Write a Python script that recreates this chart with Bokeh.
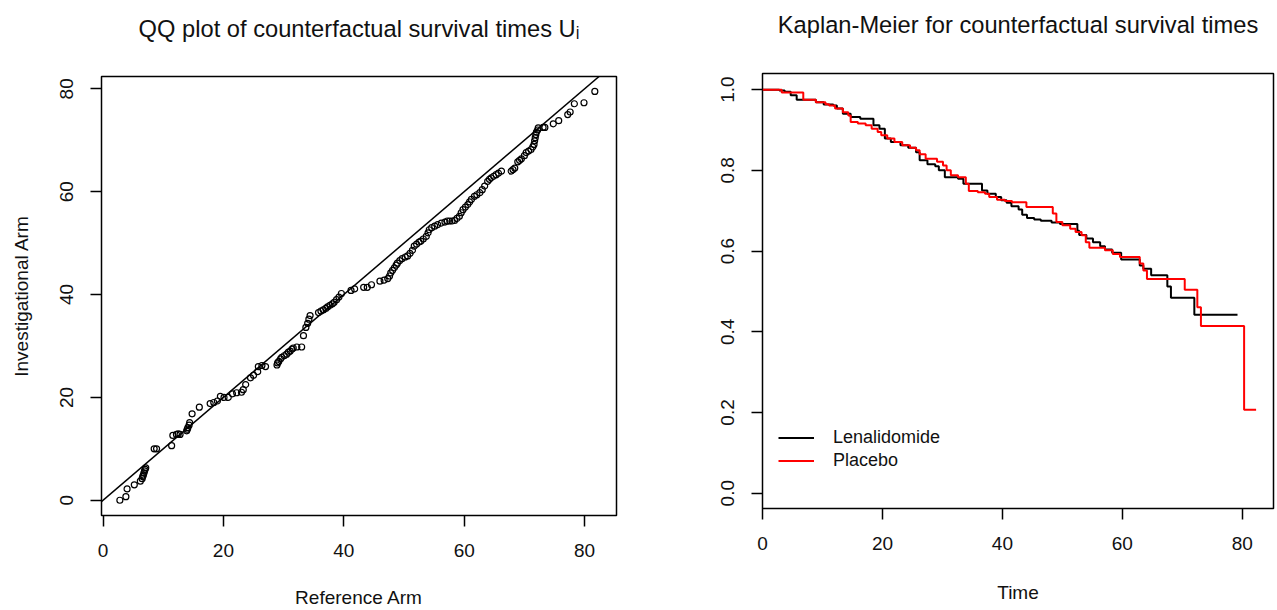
from bokeh.plotting import figure
from bokeh.layouts import row
from bokeh.models import (Slope, Legend, LegendItem, FixedTicker, Range1d,
                          PrintfTickFormatter)
from bokeh.embed import file_html
from bokeh.resources import INLINE

# ---------------- data ----------------
# QQ plot: quantiles of counterfactual survival times
ref_q = [2.8, 3.8, 4.0, 5.2, 6.2, 6.5, 6.6, 6.7, 6.8, 6.9, 7.0, 7.1,
         8.5, 8.9, 11.4, 11.6, 12.2, 12.5, 12.8, 13.9, 14.0, 14.1, 14.3, 14.4,
         14.8, 16.0, 17.8, 18.4, 19.0, 19.5, 20.1, 20.8, 21.5, 22.2, 23.0, 23.3,
         23.7, 24.5, 25.0, 25.7, 25.8, 26.4, 27.0,
         28.9, 29.0, 29.2, 29.5, 29.7, 30.1, 30.5, 30.8, 31.1, 31.4, 31.6, 32.2, 33.0,
         33.3, 33.7, 34.0, 34.2, 34.4,
         35.8, 36.2, 36.6, 37.0, 37.3, 37.7, 38.1, 38.4, 38.8, 39.2, 39.6,
         41.2, 41.8, 43.3, 43.9, 44.6, 46.0, 46.7,
         47.3, 47.6, 47.8, 48.1, 48.4, 48.7, 48.9, 49.3,
         49.7, 50.2, 50.6, 51.0, 51.4, 51.7, 52.1, 52.5, 52.8, 53.2, 53.7, 54.0,
         54.2, 54.6, 55.1, 55.6, 56.2, 56.8, 57.2, 57.6, 58.0, 58.4, 58.8, 59.2,
         59.5, 59.8, 60.2, 60.6, 60.9, 61.2, 61.7, 62.1, 62.6, 63.0, 63.4, 63.9,
         64.2, 64.5, 64.9, 65.3, 65.7, 66.2,
         67.8, 68.1, 68.4, 68.9, 69.2, 69.5, 70.0, 70.3, 70.7, 71.1, 71.4, 71.6,
         71.7, 71.8, 71.9, 72.0, 72.2, 72.3,
         73.1, 73.4, 74.8, 75.7, 77.2, 77.6, 78.3, 79.9, 81.7]
inv_q = [0.0, 0.7, 2.2, 3.0, 3.7, 4.2, 4.6, 4.9, 5.3, 5.7, 6.0, 6.3,
         10.0, 10.0, 10.6, 12.6, 12.8, 12.9, 12.8, 13.5, 13.8, 14.1, 14.6, 15.1,
         16.8, 18.1, 18.8, 19.0, 19.3, 20.2, 20.0, 20.0, 20.7, 20.9, 21.0, 21.5,
         22.5, 23.8, 24.3, 25.0, 26.0, 26.2, 26.0,
         26.3, 26.7, 27.0, 27.5, 27.8, 28.1, 28.4, 28.8, 29.0, 29.4, 29.6, 29.8, 29.8,
         32.0, 33.6, 34.4, 35.2, 35.9,
         36.5, 36.8, 37.0, 37.3, 37.6, 37.9, 38.2, 38.5, 39.0, 39.5, 40.2,
         40.8, 41.1, 41.4, 41.4, 41.9, 42.6, 42.8,
         43.1, 43.6, 44.2, 44.7, 45.2, 45.7, 46.1, 46.6,
         47.0, 47.3, 47.5, 48.0, 48.6, 49.4, 49.8, 50.2, 50.4, 50.8, 51.3, 52.0,
         52.6, 53.0, 53.3, 53.6, 53.9, 54.1, 54.3, 54.3, 54.3, 54.4, 54.8, 55.2,
         55.9, 56.5, 57.0, 57.5, 58.0, 58.5, 59.1, 59.4, 59.8, 60.4, 61.1, 62.0,
         62.4, 62.7, 63.0, 63.3, 63.6, 64.0,
         64.0, 64.3, 64.6, 65.8, 66.1, 66.4, 67.0, 67.6, 67.9, 68.2, 68.7, 69.2,
         69.9, 70.5, 71.1, 71.6, 72.0, 72.4,
         72.5, 72.5, 73.2, 73.8, 75.0, 75.5, 77.1, 77.3, 79.5]

# Kaplan-Meier step curves
len_time = [0, 2.8, 3.7, 4.7, 5.7, 8.9, 10.2, 11.8, 12.4, 13.4, 14.7, 16.3, 18.5,
            19.5, 20.4, 21.4, 23.0, 24.3, 25.6, 26.2, 27.5, 28.8, 29.4, 30.4, 32.6,
            33.5, 36.6, 37.5, 38.9, 39.8, 40.7, 41.5, 42.7, 43.3, 44.1, 45.3, 46.4,
            48.2, 49.6, 52.5, 52.8, 54.0, 55.1, 56.3, 57.1, 58.3, 59.8, 62.9, 63.5,
            64.8, 67.5, 68.1, 72.0, 79.2]
len_surv = [1.000, 0.998, 0.995, 0.986, 0.975, 0.969, 0.963, 0.961, 0.953, 0.940,
            0.932, 0.928, 0.912, 0.903, 0.879, 0.870, 0.862, 0.856, 0.845, 0.825,
            0.815, 0.810, 0.800, 0.783, 0.779, 0.767, 0.750, 0.742, 0.734, 0.726,
            0.720, 0.711, 0.703, 0.690, 0.682, 0.678, 0.675, 0.671, 0.667, 0.650,
            0.640, 0.631, 0.622, 0.612, 0.604, 0.596, 0.579, 0.564, 0.556, 0.540,
            0.512, 0.484, 0.442, 0.442]
pla_time = [0, 3.2, 6.8, 8.9, 10.5, 11.1, 12.1, 13.4, 14.3, 14.7, 15.9, 17.2, 18.2,
            19.2, 19.8, 20.8, 22.0, 23.3, 24.6, 25.6, 26.2, 27.2, 29.1, 30.1, 30.7,
            31.4, 32.6, 33.9, 34.4, 35.9, 37.1, 37.8, 39.1, 40.4, 41.6, 44.0, 48.4,
            49.0, 50.0, 51.3, 52.2, 53.2, 53.9, 54.5, 57.1, 58.4, 59.6, 62.9, 63.5,
            64.1, 70.4, 72.5, 73.1, 80.3, 82.3]
pla_surv = [1.000, 0.993, 0.975, 0.969, 0.964, 0.961, 0.953, 0.944, 0.936, 0.920,
            0.916, 0.912, 0.903, 0.895, 0.887, 0.879, 0.870, 0.862, 0.856, 0.850,
            0.840, 0.829, 0.821, 0.812, 0.800, 0.788, 0.783, 0.767, 0.749, 0.746,
            0.742, 0.734, 0.727, 0.724, 0.721, 0.709, 0.693, 0.672, 0.664, 0.655,
            0.647, 0.639, 0.622, 0.608, 0.602, 0.593, 0.585, 0.569, 0.552, 0.531,
            0.504, 0.461, 0.414, 0.207, 0.207]

x_ticks = [0, 20, 40, 60, 80]
qq_y_ticks = [0, 20, 40, 60, 80]
km_y_ticks = [0.0, 0.2, 0.4, 0.6, 0.8, 1.0]
series_labels = ["Lenalidomide", "Placebo"]
titles = ["QQ plot of counterfactual survival times U\u1d62",
          "Kaplan-Meier for counterfactual survival times"]

FONT = "Liberation Sans"
TXT = "#111111"


def style(p, tick_standoff, xlab_standoff, title_standoff):
    p.frame_align = False
    p.outline_line_color = "black"
    p.outline_line_width = 1.5
    p.outline_line_alpha = 1.0
    p.xgrid.visible = False
    p.ygrid.visible = False
    p.background_fill_color = "white"
    p.border_fill_color = "white"
    for ax in (p.xaxis[0], p.yaxis[0]):
        ax.axis_line_color = None
        ax.major_tick_in = 0
        ax.major_tick_out = 11
        ax.major_tick_line_color = "black"
        ax.major_tick_line_width = 1.5
        ax.minor_tick_line_color = None
        ax.major_label_text_font = FONT
        ax.major_label_text_font_size = "19px"
        ax.major_label_text_color = TXT
        ax.major_label_standoff = 17
        ax.axis_label_text_font = FONT
        ax.axis_label_text_font_size = "19px"
        ax.axis_label_text_font_style = "normal"
        ax.axis_label_text_color = TXT
    p.xaxis[0].major_label_standoff = tick_standoff
    p.xaxis[0].axis_label_standoff = xlab_standoff
    p.yaxis[0].axis_label_standoff = 26
    p.yaxis[0].major_label_orientation = "vertical"
    p.title.text_font = FONT
    p.title.text_font_size = "23.7px"
    p.title.text_font_style = "normal"
    p.title.text_color = TXT
    p.title.align = "center"
    p.title.vertical_align = "top"
    p.title.standoff = title_standoff


# ---------------- left: QQ plot ----------------
p1 = figure(width=638, height=610, output_backend="svg", toolbar_location=None,
            x_range=Range1d(-0.25, 85.3), y_range=Range1d(-2.97, 82.4),
            min_border_left=101, min_border_right=22, min_border_top=76, min_border_bottom=94,
            title=titles[0] + "\n ",
            x_axis_label="Reference Arm", y_axis_label="Investigational Arm")
style(p1, 17, 27, 14)
p1.xaxis[0].ticker = FixedTicker(ticks=x_ticks)
p1.yaxis[0].ticker = FixedTicker(ticks=qq_y_ticks)
p1.add_layout(Slope(gradient=1, y_intercept=0, line_color="black", line_width=1.5))
p1.scatter(ref_q, inv_q, marker="circle", size=6, fill_color=None,
           line_color="black", line_width=1.2)

# ---------------- right: Kaplan-Meier ----------------
p2 = figure(width=638, height=610, output_backend="svg", toolbar_location=None,
            x_range=Range1d(0, 85.2), y_range=Range1d(-0.038, 1.04),
            min_border_left=124, min_border_right=3, min_border_top=73, min_border_bottom=102,
            title=titles[1] + "\n ",
            x_axis_label="Time")
style(p2, 17, 29, 16)
p2.xaxis[0].ticker = FixedTicker(ticks=x_ticks)
p2.yaxis[0].ticker = FixedTicker(ticks=km_y_ticks)
p2.yaxis[0].formatter = PrintfTickFormatter(format="%.1f")
r_len = p2.step(len_time, len_surv, mode="after", line_color="black", line_width=2)
r_pla = p2.step(pla_time, pla_surv, mode="after", line_color="#ff0000", line_width=2)

legend = Legend(items=[LegendItem(label=series_labels[0], renderers=[r_len]),
                       LegendItem(label=series_labels[1], renderers=[r_pla])],
                location=(16, 36))
legend.border_line_color = None
legend.background_fill_alpha = 0
legend.padding = 0
legend.margin = 0
legend.spacing = 0
legend.label_height = 23
legend.glyph_height = 23
legend.glyph_width = 36
legend.label_standoff = 19
legend.label_text_font = FONT
legend.label_text_font_size = "18px"
legend.label_text_color = TXT
p2.add_layout(legend)

layout = row(p1, p2)
open("out.html", "w").write(file_html(layout, INLINE))
